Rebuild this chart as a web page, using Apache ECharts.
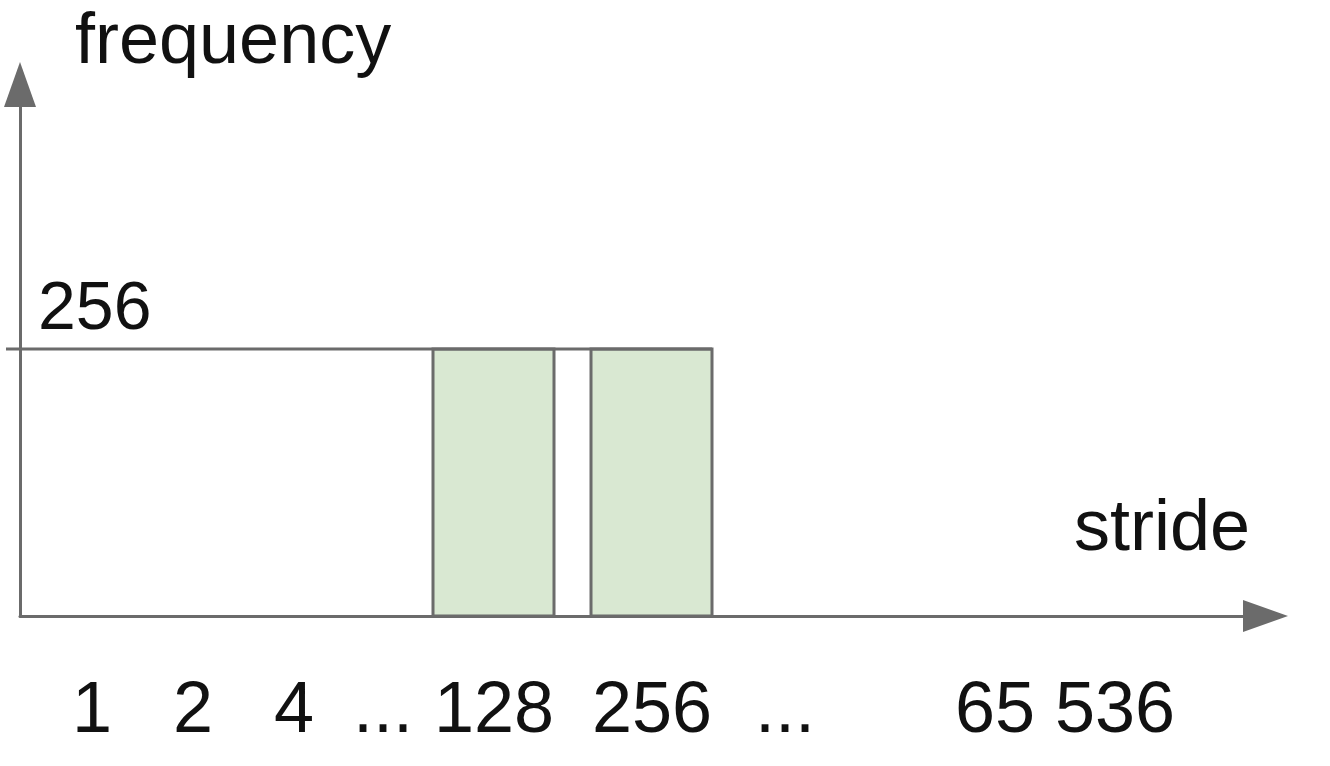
<!DOCTYPE html>
<html>
<head>
<meta charset="utf-8">
<script src="https://cdn.jsdelivr.net/npm/echarts@6/dist/echarts.min.js"></script>
<style>
html,body{margin:0;padding:0;background:#fff;}
#chart{width:1330px;height:766px;}
</style>
</head>
<body>
<div id="chart"></div>
<script>
// ---- data ----
const strideLabels = ['1', '2', '4', '...', '128', '256', '...', '65 536'];
const stridePos    = [0.72, 1.73, 2.74, 3.63, 4.74, 6.32, 7.65, 10.45]; // slot positions along the stride axis
const barStrides   = ['128', '256'];
const barStart     = [4.13, 5.71];
const barEnd       = [5.34, 6.92];
const barFreq      = [256, 256];
const levelValue   = 256;
const levelStart   = -0.14;
const yTickLabels  = [256];
const xMin = 0, xMax = 12.455, yMax = 512;

const lineColor = '#6b6b6b';
const fontFam = '"Liberation Sans", Arial, sans-serif';

const chart = echarts.init(document.getElementById('chart'));
chart.setOption({
  backgroundColor: '#fff',
  animation: false,
  grid: { left: 20, right: 1330 - 1265.5, top: 82, bottom: 150, containLabel: false },
  xAxis: {
    type: 'value', min: xMin, max: xMax,
    name: 'stride', nameLocation: 'end', nameGap: -15.5,
    nameTextStyle: { fontFamily: fontFam, fontSize: 72, color: '#111', align: 'right', verticalAlign: 'bottom', padding: [0, 0, 50, 0] },
    axisLine: { show: true, onZero: true, lineStyle: { color: lineColor, width: 3, cap: 'round' }, symbol: ['none', 'triangle'], symbolSize: [32, 45], symbolOffset: [0, 0] },
    axisTick: { show: false },
    splitLine: { show: false },
    axisLabel: {
      customValues: stridePos,
      formatter: function (v) {
        let best = 0;
        for (let i = 0; i < stridePos.length; i++) if (Math.abs(stridePos[i] - v) < Math.abs(stridePos[best] - v)) best = i;
        return strideLabels[best];
      },
      fontFamily: fontFam, fontSize: 72, color: '#111', margin: 60
    }
  },
  yAxis: {
    type: 'value', min: 0, max: yMax,
    name: 'frequency', nameLocation: 'end', nameGap: 3,
    nameTextStyle: { fontFamily: fontFam, fontSize: 72, color: '#111', align: 'left', padding: [0, 0, 0, 55] },
    axisLine: { show: true, onZero: true, lineStyle: { color: lineColor, width: 3, cap: 'round' }, symbol: ['none', 'triangle'], symbolSize: [32, 45], symbolOffset: [0, -2.5] },
    axisTick: { show: false },
    splitLine: { show: false },
    axisLabel: {
      customValues: yTickLabels,
      inside: true, margin: 18, align: 'left', verticalAlign: 'bottom',
      fontFamily: fontFam, fontSize: 68, color: '#111', padding: [0, 0, 5, 0]
    }
  },
  series: [
    {
      type: 'custom',
      name: 'bars',
      renderItem: function (params, api) {
        const p0 = api.coord([api.value(0), api.value(2)]);
        const p1 = api.coord([api.value(1), 0]);
        return {
          type: 'rect',
          shape: { x: p0[0], y: p0[1], width: p1[0] - p0[0], height: p1[1] - p0[1] },
          style: { fill: '#d9e8d2', stroke: lineColor, lineWidth: 3 }
        };
      },
      data: barStart.map((s, i) => [s, barEnd[i], barFreq[i], barStrides[i]]),
      z: 3
    },
    {
      type: 'custom',
      name: 'level',
      clip: false,
      renderItem: function (params, api) {
        const a = api.coord([api.value(0), api.value(2)]);
        const b = api.coord([api.value(1), api.value(2)]);
        return {
          type: 'line',
          shape: { x1: a[0], y1: a[1], x2: b[0], y2: b[1] },
          style: { stroke: lineColor, lineWidth: 3 }
        };
      },
      data: [[levelStart, barEnd[barEnd.length - 1], levelValue]],
      z: 4
    }
  ]
});
</script>
</body>
</html>
